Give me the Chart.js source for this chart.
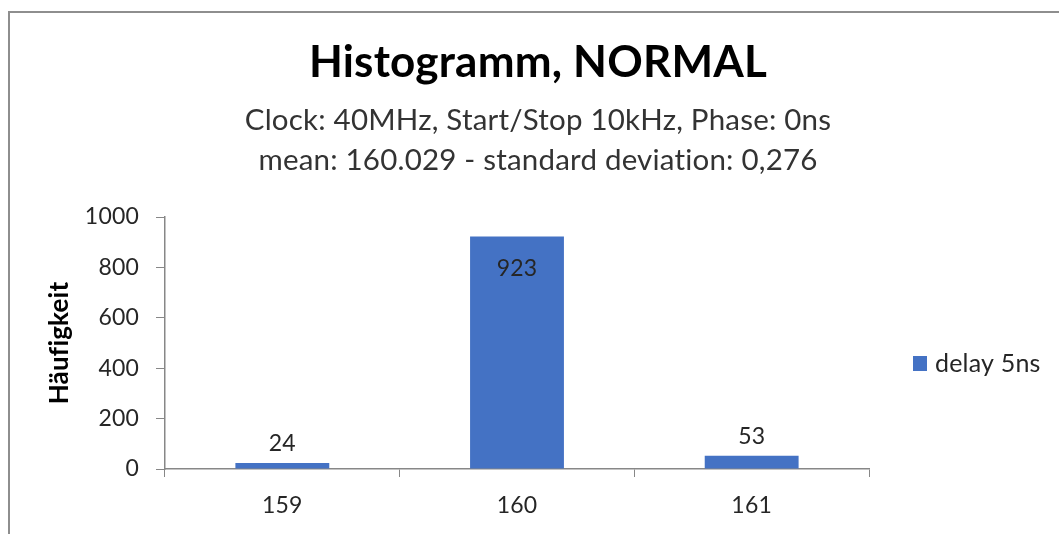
<!DOCTYPE html>
<html>
<head>
<meta charset="utf-8">
<title>Histogramm, NORMAL</title>
<script src="https://cdn.jsdelivr.net/npm/chart.js@4.4.1/dist/chart.umd.min.js"></script>
<style>
  html, body { margin: 0; padding: 0; background: #ffffff; overflow: hidden; }
  #frame {
    position: absolute; left: 8px; top: 11px; width: 1200px; height: 700px;
    border-top: 2px solid #8e8e8e; border-left: 2px solid #8e8e8e;
  }
  #chart { position: absolute; left: 0; top: 0; }
</style>
</head>
<body>
<div id="frame"></div>
<canvas id="chart" width="1059" height="534"></canvas>
<script>
// Histogram bins (ns) and their counts
const categories = ['159', '160', '161'];
const counts = [24, 923, 53];
const seriesName = 'delay 5ns';
const yTicks = [0, 200, 400, 600, 800, 1000];

const titleText = 'Histogramm, NORMAL';
const subtitleLines = [
  'Clock: 40MHz, Start/Stop 10kHz, Phase: 0ns',
  'mean: 160.029 - standard deviation: 0,276'
];
const yAxisTitle = 'Häufigkeit';

const FONT = 'Lato, "Open Sans", sans-serif';
const BAR_COLOR = '#4472C4';
const AXIS_COLOR = '#878787';
const TEXT_COLOR = '#262626';

// A hair of letter spacing keeps "fi" as two separate glyphs
const plainGlyphs = {
  id: 'plainGlyphs',
  beforeDraw(chart) {
    if ('letterSpacing' in chart.ctx) chart.ctx.letterSpacing = '0.2px';
  }
};

// Count printed on each bar: inside the tall bar, above the short ones
const valueLabels = {
  id: 'valueLabels',
  afterDatasetsDraw(chart) {
    const { ctx } = chart;
    const yScale = chart.scales.y;
    ctx.save();
    ctx.font = '23px ' + FONT;
    ctx.fillStyle = TEXT_COLOR;
    ctx.textAlign = 'center';
    ctx.textBaseline = 'middle';
    chart.data.datasets.forEach((ds, di) => {
      chart.getDatasetMeta(di).data.forEach((bar, i) => {
        const v = ds.data[i];
        const inside = v > yScale.max / 2;
        const y = inside ? bar.y + 32 : bar.y - 19;
        ctx.fillText(String(v), bar.x, y);
      });
    });
    ctx.restore();
  }
};

// Series key to the right of the plot, level with the middle of the axis
const sideLegend = {
  id: 'sideLegend',
  afterDraw(chart) {
    const { ctx, chartArea } = chart;
    const x = chartArea.right + 44;
    const y = (chartArea.top + chartArea.bottom) / 2 + 21;
    ctx.save();
    chart.data.datasets.forEach((ds) => {
      ctx.fillStyle = ds.backgroundColor;
      ctx.fillRect(x, y - 8, 14, 15);
      ctx.font = '25px ' + FONT;
      ctx.fillStyle = TEXT_COLOR;
      ctx.textAlign = 'left';
      ctx.textBaseline = 'middle';
      ctx.fillText(ds.label, x + 22, y);
    });
    ctx.restore();
  }
};

new Chart(document.getElementById('chart'), {
  type: 'bar',
  data: {
    labels: categories,
    datasets: [{
      label: seriesName,
      data: counts,
      backgroundColor: BAR_COLOR,
      borderWidth: 0,
      categoryPercentage: 1.0,
      barPercentage: 0.4
    }]
  },
  options: {
    responsive: false,
    animation: false,
    devicePixelRatio: 1,
    layout: { padding: { left: 17, right: 0, top: 0, bottom: 0 } },
    plugins: {
      legend: { display: false },
      tooltip: { enabled: false },
      title: {
        display: true,
        text: titleText,
        color: '#000000',
        font: { family: FONT, size: 44, weight: 'bold', lineHeight: 1.2 },
        padding: { top: 36.6, bottom: 10.6 }
      },
      subtitle: {
        display: true,
        text: subtitleLines,
        color: '#333333',
        font: { family: FONT, size: 29.5, lineHeight: 1.356 },
        padding: { top: 0, bottom: 37 }
      }
    },
    scales: {
      x: {
        grid: {
          display: true,
          drawOnChartArea: false,
          drawTicks: true,
          tickLength: 8,
          color: AXIS_COLOR,
          offset: true
        },
        border: { display: true, color: AXIS_COLOR, width: 1.5 },
        ticks: { color: TEXT_COLOR, font: { family: FONT, size: 23 }, padding: 15 },
        afterFit(scale) { scale.height = 65; }
      },
      y: {
        min: 0,
        max: 1000,
        afterBuildTicks(scale) { scale.ticks = yTicks.map(v => ({ value: v })); },
        grid: {
          display: true,
          drawOnChartArea: false,
          drawTicks: true,
          tickLength: 9,
          color: AXIS_COLOR
        },
        border: { display: true, color: AXIS_COLOR, width: 1.5 },
        ticks: {
          color: TEXT_COLOR,
          font: { family: FONT, size: 23 },
          padding: 17,
          callback: (v) => String(v)
        },
        title: {
          display: true,
          text: yAxisTitle,
          color: '#000000',
          font: { family: FONT, size: 26, weight: 'bold', lineHeight: 1.2 },
          padding: { top: 27.4, bottom: 0 }
        },
        afterFit(scale) { scale.width = 148; }
      },
      // empty strip on the right that leaves room for the series key
      keySpace: {
        type: 'linear',
        position: 'right',
        display: true,
        grid: { display: false },
        border: { display: false },
        ticks: { display: false },
        afterFit(scale) { scale.width = 190; }
      }
    }
  },
  plugins: [plainGlyphs, valueLabels, sideLegend]
});
</script>
</body>
</html>
